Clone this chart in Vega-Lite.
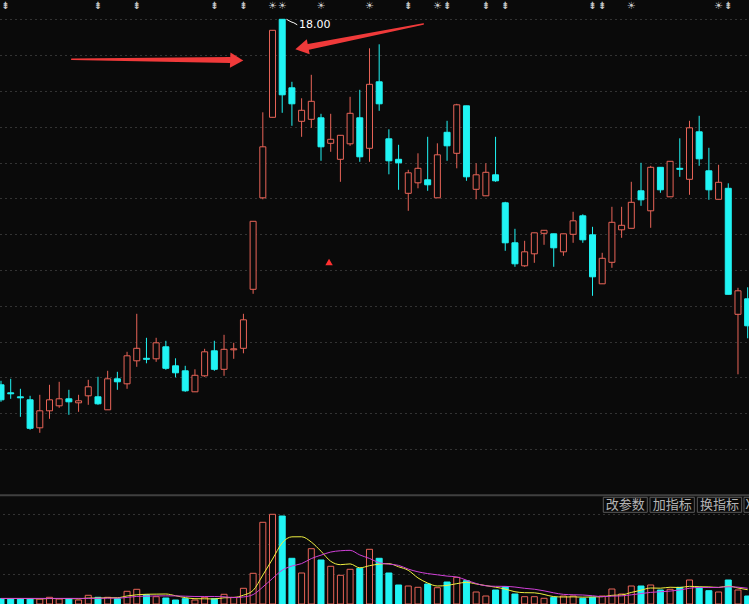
{
  "$schema": "https://vega.github.io/schema/vega-lite/v6.json",
  "autosize": "none",
  "width": 749,
  "height": 604,
  "padding": 0,
  "background": "#0a0a0a",
  "config": {"view": {"stroke": null}},
  "datasets": {
    "k": [
{"i":0,"d":"dn","o":10.69,"h":10.77,"l":10.35,"c":10.39,"v":10600,"m5":11000,"m10":11200},
{"i":1,"d":"dn","o":10.53,"h":10.81,"l":10.41,"c":10.51,"v":10000,"m5":11000,"m10":11200},
{"i":2,"d":"dn","o":10.45,"h":10.61,"l":10.05,"c":10.43,"v":10600,"m5":11000,"m10":11200},
{"i":3,"d":"dn","o":10.39,"h":10.47,"l":9.79,"c":9.82,"v":10600,"m5":11000,"m10":11200},
{"i":4,"d":"up","o":9.83,"h":10.49,"l":9.73,"c":10.17,"v":10000,"m5":10360,"m10":11200},
{"i":5,"d":"up","o":10.17,"h":10.69,"l":10.01,"c":10.39,"v":13400,"m5":10920,"m10":11200},
{"i":6,"d":"up","o":10.27,"h":10.75,"l":10.23,"c":10.41,"v":10000,"m5":10920,"m10":11200},
{"i":7,"d":"dn","o":10.41,"h":10.59,"l":10.09,"c":10.35,"v":10600,"m5":10920,"m10":11200},
{"i":8,"d":"up","o":10.33,"h":10.49,"l":10.15,"c":10.37,"v":8000,"m5":10400,"m10":11200},
{"i":9,"d":"up","o":10.47,"h":10.79,"l":10.29,"c":10.65,"v":17400,"m5":11880,"m10":11120},
{"i":10,"d":"dn","o":10.45,"h":10.85,"l":10.29,"c":10.31,"v":13400,"m5":11880,"m10":11400},
{"i":11,"d":"up","o":10.19,"h":10.97,"l":10.19,"c":10.81,"v":13400,"m5":12560,"m10":11740},
{"i":12,"d":"dn","o":10.81,"h":10.95,"l":10.59,"c":10.75,"v":10600,"m5":12560,"m10":11740},
{"i":13,"d":"up","o":10.71,"h":11.35,"l":10.61,"c":11.27,"v":25400,"m5":16040,"m10":13220},
{"i":14,"d":"up","o":11.17,"h":12.11,"l":11.05,"c":11.42,"v":29400,"m5":18440,"m10":15160},
{"i":15,"d":"dn","o":11.22,"h":11.63,"l":11.12,"c":11.20,"v":18600,"m5":19480,"m10":15680},
{"i":16,"d":"up","o":11.21,"h":11.63,"l":11.15,"c":11.53,"v":14600,"m5":19720,"m10":16140},
{"i":17,"d":"dn","o":11.45,"h":11.57,"l":10.99,"c":11.02,"v":12000,"m5":20000,"m10":16280},
{"i":18,"d":"dn","o":11.07,"h":11.22,"l":10.84,"c":10.93,"v":8000,"m5":16520,"m10":16280},
{"i":19,"d":"dn","o":10.97,"h":11.07,"l":10.55,"c":10.57,"v":10600,"m5":12760,"m10":15600},
{"i":20,"d":"up","o":10.55,"h":11.00,"l":10.55,"c":10.88,"v":8000,"m5":10640,"m10":15060},
{"i":21,"d":"up","o":10.87,"h":11.41,"l":10.85,"c":11.35,"v":13400,"m5":10400,"m10":15060},
{"i":22,"d":"dn","o":11.37,"h":11.57,"l":10.97,"c":11.00,"v":10600,"m5":10120,"m10":15060},
{"i":23,"d":"up","o":11.00,"h":11.69,"l":10.87,"c":11.40,"v":19400,"m5":12400,"m10":14460},
{"i":24,"d":"up","o":11.39,"h":11.53,"l":11.21,"c":11.41,"v":13400,"m5":12960,"m10":12860},
{"i":25,"d":"up","o":11.42,"h":12.11,"l":11.32,"c":11.99,"v":31400,"m5":17640,"m10":14140},
{"i":26,"d":"up","o":12.60,"h":13.96,"l":12.51,"c":13.96,"v":61400,"m5":27240,"m10":18820},
{"i":27,"d":"up","o":14.43,"h":16.14,"l":14.40,"c":15.45,"v":163400,"m5":57800,"m10":33960},
{"i":28,"d":"up","o":16.04,"h":17.78,"l":16.04,"c":17.78,"v":179400,"m5":89800,"m10":51100},
{"i":29,"d":"dn","o":18.00,"h":18.00,"l":16.13,"c":16.49,"v":176000,"m5":122320,"m10":67640},
{"i":30,"d":"dn","o":16.63,"h":16.75,"l":15.87,"c":16.31,"v":91400,"m5":134320,"m10":75980},
{"i":31,"d":"up","o":15.96,"h":16.42,"l":15.65,"c":16.18,"v":62000,"m5":134440,"m10":80840},
{"i":32,"d":"up","o":16.00,"h":16.89,"l":15.83,"c":16.36,"v":110600,"m5":123880,"m10":90840},
{"i":33,"d":"dn","o":16.03,"h":16.11,"l":15.17,"c":15.45,"v":88000,"m5":105600,"m10":97700},
{"i":34,"d":"up","o":15.52,"h":16.11,"l":15.35,"c":15.60,"v":75400,"m5":85480,"m10":103900},
{"i":35,"d":"up","o":15.20,"h":15.68,"l":14.75,"c":15.68,"v":57400,"m5":78680,"m10":106500},
{"i":36,"d":"up","o":15.51,"h":16.45,"l":15.47,"c":16.12,"v":69400,"m5":80160,"m10":107300},
{"i":37,"d":"dn","o":16.03,"h":16.59,"l":15.15,"c":15.25,"v":71400,"m5":72320,"m10":98100},
{"i":38,"d":"up","o":15.42,"h":17.42,"l":15.15,"c":16.70,"v":109400,"m5":76600,"m10":91100},
{"i":39,"d":"dn","o":16.75,"h":17.50,"l":16.17,"c":16.31,"v":91400,"m5":79800,"m10":82640},
{"i":40,"d":"dn","o":15.61,"h":15.80,"l":14.90,"c":15.17,"v":62000,"m5":80720,"m10":79700},
{"i":41,"d":"dn","o":15.20,"h":15.49,"l":14.59,"c":15.13,"v":38000,"m5":74440,"m10":77300},
{"i":42,"d":"up","o":14.52,"h":14.99,"l":14.17,"c":14.93,"v":36000,"m5":67360,"m10":69840},
{"i":43,"d":"up","o":14.73,"h":15.32,"l":14.62,"c":15.02,"v":33400,"m5":52160,"m10":64380},
{"i":44,"d":"dn","o":14.79,"h":15.65,"l":14.57,"c":14.69,"v":40000,"m5":41880,"m10":60840},
{"i":45,"d":"up","o":14.43,"h":15.52,"l":14.43,"c":15.29,"v":32600,"m5":36000,"m10":58360},
{"i":46,"d":"dn","o":15.74,"h":15.97,"l":15.17,"c":15.47,"v":44000,"m5":37200,"m10":55820},
{"i":47,"d":"up","o":15.32,"h":16.31,"l":15.02,"c":16.29,"v":53400,"m5":40680,"m10":54020},
{"i":48,"d":"dn","o":16.27,"h":16.27,"l":14.77,"c":14.85,"v":46600,"m5":43320,"m10":47740},
{"i":49,"d":"up","o":14.60,"h":15.12,"l":14.40,"c":14.89,"v":24000,"m5":40120,"m10":41000},
{"i":50,"d":"up","o":14.47,"h":15.12,"l":14.47,"c":14.94,"v":16000,"m5":36800,"m10":36400},
{"i":51,"d":"dn","o":14.89,"h":15.65,"l":14.75,"c":14.77,"v":28000,"m5":33600,"m10":35400},
{"i":52,"d":"dn","o":14.33,"h":14.35,"l":13.37,"c":13.53,"v":34600,"m5":29840,"m10":35260},
{"i":53,"d":"dn","o":13.53,"h":13.81,"l":13.05,"c":13.11,"v":20000,"m5":24520,"m10":33920},
{"i":54,"d":"up","o":13.07,"h":13.57,"l":13.05,"c":13.35,"v":14600,"m5":22640,"m10":31380},
{"i":55,"d":"up","o":13.31,"h":13.73,"l":13.13,"c":13.73,"v":14600,"m5":22360,"m10":29580},
{"i":56,"d":"up","o":13.72,"h":13.78,"l":13.49,"c":13.78,"v":11400,"m5":19040,"m10":26320},
{"i":57,"d":"dn","o":13.71,"h":13.71,"l":13.05,"c":13.43,"v":13400,"m5":14800,"m10":22320},
{"i":58,"d":"up","o":13.35,"h":13.71,"l":13.27,"c":13.71,"v":16000,"m5":14000,"m10":19260},
{"i":59,"d":"up","o":13.70,"h":14.15,"l":13.53,"c":13.97,"v":16000,"m5":14280,"m10":18460},
{"i":60,"d":"dn","o":14.07,"h":14.10,"l":13.53,"c":13.59,"v":11400,"m5":13640,"m10":18000},
{"i":61,"d":"dn","o":13.69,"h":13.85,"l":12.47,"c":12.85,"v":13400,"m5":14040,"m10":16540},
{"i":62,"d":"up","o":12.71,"h":13.33,"l":12.71,"c":13.22,"v":16000,"m5":14560,"m10":14680},
{"i":63,"d":"up","o":13.14,"h":14.25,"l":13.03,"c":13.94,"v":30000,"m5":17360,"m10":15680},
{"i":64,"d":"up","o":13.79,"h":14.25,"l":13.63,"c":13.88,"v":20000,"m5":18160,"m10":16220},
{"i":65,"d":"up","o":13.82,"h":14.75,"l":13.82,"c":14.34,"v":36000,"m5":23080,"m10":18360},
{"i":66,"d":"dn","o":14.57,"h":15.13,"l":14.27,"c":14.39,"v":36000,"m5":27600,"m10":20820},
{"i":67,"d":"up","o":14.17,"h":15.07,"l":13.83,"c":15.04,"v":38000,"m5":32000,"m10":23280},
{"i":68,"d":"dn","o":15.04,"h":15.04,"l":14.53,"c":14.59,"v":28000,"m5":31600,"m10":24480},
{"i":69,"d":"up","o":14.45,"h":15.16,"l":14.45,"c":15.16,"v":29400,"m5":33480,"m10":25820},
{"i":70,"d":"dn","o":15.02,"h":15.62,"l":14.85,"c":15.00,"v":33400,"m5":32960,"m10":28020},
{"i":71,"d":"up","o":14.80,"h":15.97,"l":14.49,"c":15.83,"v":48000,"m5":35360,"m10":31480},
{"i":72,"d":"dn","o":15.75,"h":16.07,"l":15.07,"c":15.21,"v":33400,"m5":34440,"m10":33220},
{"i":73,"d":"dn","o":14.97,"h":15.43,"l":14.39,"c":14.59,"v":26600,"m5":34160,"m10":32880},
{"i":74,"d":"up","o":14.40,"h":15.09,"l":14.40,"c":14.74,"v":24000,"m5":33080,"m10":33280},
{"i":75,"d":"dn","o":14.62,"h":14.72,"l":12.50,"c":12.50,"v":48000,"m5":36000,"m10":34480},
{"i":76,"d":"up","o":12.10,"h":12.63,"l":10.90,"c":12.57,"v":28000,"m5":32000,"m10":33680},
{"i":77,"d":"dn","o":12.41,"h":12.64,"l":11.62,"c":11.87,"v":16000,"m5":28520,"m10":31480}
    ],
    "icons": [
      {"i":0.45,"t":"⇟"},{"i":10,"t":"⇟"},{"i":14,"t":"⇟"},{"i":22,"t":"⇟"},{"i":25,"t":"⇟"},
      {"i":28,"t":"☀"},{"i":29,"t":"☀"},{"i":33,"t":"☀"},{"i":38,"t":"☀"},
      {"i":42,"t":"⇟"},{"i":45,"t":"☀"},{"i":46,"t":"⇟"},{"i":50,"t":"⇟"},{"i":52,"t":"⇟"},
      {"i":61,"t":"⇟"},{"i":62,"t":"⇟"},{"i":65,"t":"☀"},{"i":74,"t":"☀"},{"i":75,"t":"⇟"}
    ],
    "shafts": [
      {"a":1,"s":1,"i":7.29,"p":17.2,"part":"tail"},
      {"a":1,"s":2,"i":23.6,"p":17.186,"part":"neck"},
      {"a":2,"s":1,"i":43.55,"p":17.906,"part":"tail"},
      {"a":2,"s":2,"i":31.7,"p":17.448,"part":"neck"}
    ],
    "head1": [{"i":24.31,"p":17.18}],
    "head2": [{"i":31.02,"p":17.426}],
    "flag": [
      {"s":1,"i":29.45,"p":18.0},
      {"s":2,"i":29.9,"p":17.95},
      {"s":3,"i":30.2,"p":17.93},
      {"s":4,"i":30.55,"p":17.89}
    ],
    "labels": [{"i":30.73,"p":17.886,"t":"18.00"}],
    "marker": [{"i":33.83,"p":13.146}],
    "btn": [
      {"x1":62.11,"x2":66.65,"xm":64.38,"t":"改参数"},
      {"x1":66.93,"x2":71.5,"xm":69.215,"t":"加指标"},
      {"x1":71.81,"x2":76.38,"xm":74.095,"t":"换指标"}
    ],
    "btnx": [
      {"x1":76.62,"x2":81.2,"xm":76.78,"t":"X"}
    ]
  },
  "resolve": {"scale": {"y": "independent"}},
  "layer": [
    {
      "layer": [
        {
          "data": {"name": "k"},
          "mark": {"type": "rule", "strokeWidth": 1, "clip": true},
          "encoding": {
            "x": {"field": "i", "type": "quantitative", "scale": {"domain": [-0.1031, 77.137], "nice": false, "zero": false, "padding": 0}, "axis": null},
            "y": {"field": "l", "type": "quantitative", "scale": {"domain": [6.306, 18.386], "nice": false, "zero": false, "padding": 0},
                  "axis": {"values": [18.0, 17.284, 16.568, 15.852, 15.136, 14.42, 13.704, 12.988, 12.272, 11.556, 10.84, 10.124, 9.408],
                           "labels": false, "ticks": false, "domain": false, "title": null, "grid": true,
                           "gridColor": "#5c5c5c", "gridDash": [1, 4], "gridWidth": 1}},
            "y2": {"field": "h"},
            "stroke": {"field": "d", "type": "nominal", "scale": {"domain": ["up", "dn"], "range": ["#e96458", "#20f4f4"]}, "legend": null}
          }
        },
        {
          "data": {"name": "k"},
          "mark": {"type": "bar", "size": 6, "strokeWidth": 1, "clip": true},
          "encoding": {
            "x": {"field": "i", "type": "quantitative"},
            "y": {"field": "o", "type": "quantitative"},
            "y2": {"field": "c"},
            "fill": {"field": "d", "type": "nominal", "scale": {"domain": ["up", "dn"], "range": ["#0a0a0a", "#20f4f4"]}, "legend": null},
            "stroke": {"field": "d", "type": "nominal", "legend": null}
          }
        },
        {
          "data": {"name": "icons"},
          "mark": {"type": "text", "fontSize": 10, "fontWeight": "bold", "color": "#c8c8c8", "font": "DejaVu Sans", "baseline": "middle", "align": "center"},
          "encoding": {
            "x": {"field": "i", "type": "quantitative"},
            "y": {"datum": 18.27},
            "text": {"field": "t"}
          }
        },
        {
          "data": {"name": "shafts"},
          "mark": {"type": "trail", "color": "#f03a3a"},
          "encoding": {
            "x": {"field": "i", "type": "quantitative"},
            "y": {"field": "p", "type": "quantitative"},
            "size": {"field": "part", "type": "ordinal", "scale": {"domain": ["tail", "neck"], "range": [1.5, 6]}, "legend": null},
            "detail": {"field": "a"},
            "order": {"field": "s"}
          }
        },
        {
          "data": {"name": "head1"},
          "mark": {"type": "point", "shape": "triangle-right", "filled": true, "size": 230, "angle": 2, "color": "#f03a3a", "opacity": 1},
          "encoding": {
            "x": {"field": "i", "type": "quantitative"},
            "y": {"field": "p", "type": "quantitative"}
          }
        },
        {
          "data": {"name": "head2"},
          "mark": {"type": "point", "shape": "triangle-right", "filled": true, "size": 230, "angle": 169, "color": "#f03a3a", "opacity": 1},
          "encoding": {
            "x": {"field": "i", "type": "quantitative"},
            "y": {"field": "p", "type": "quantitative"}
          }
        },
        {
          "data": {"name": "flag"},
          "mark": {"type": "line", "color": "#ffffff", "strokeWidth": 1},
          "encoding": {
            "x": {"field": "i", "type": "quantitative"},
            "y": {"field": "p", "type": "quantitative"},
            "order": {"field": "s"}
          }
        },
        {
          "data": {"name": "labels"},
          "mark": {"type": "text", "fontSize": 11, "color": "#ffffff", "font": "DejaVu Sans", "align": "left", "baseline": "middle"},
          "encoding": {
            "x": {"field": "i", "type": "quantitative"},
            "y": {"field": "p", "type": "quantitative"},
            "text": {"field": "t"}
          }
        },
        {
          "data": {"name": "marker"},
          "mark": {"type": "point", "shape": "triangle-up", "filled": true, "size": 55, "color": "#ff3030", "opacity": 1},
          "encoding": {
            "x": {"field": "i", "type": "quantitative"},
            "y": {"field": "p", "type": "quantitative"}
          }
        }
      ]
    },
    {
      "layer": [
        {
          "data": {"name": "k"},
          "mark": {"type": "bar", "size": 6, "strokeWidth": 1, "clip": true},
          "encoding": {
            "x": {"field": "i", "type": "quantitative"},
            "y": {"field": "v", "type": "quantitative", "scale": {"domain": [0, 1208000], "nice": false, "zero": false, "padding": 0},
                  "axis": {"orient": "right", "values": [60000, 120000, 180000], "labels": false, "ticks": false, "domain": false, "title": null,
                           "grid": true, "gridColor": "#5c5c5c", "gridDash": [1, 4], "gridWidth": 1}},
            "y2": {"datum": 0},
            "fill": {"field": "d", "type": "nominal", "legend": null},
            "stroke": {"field": "d", "type": "nominal", "legend": null}
          }
        },
        {
          "data": {"name": "k"},
          "mark": {"type": "line", "color": "#f0f040", "strokeWidth": 1, "interpolate": "monotone", "clip": true},
          "encoding": {
            "x": {"field": "i", "type": "quantitative"},
            "y": {"field": "m5", "type": "quantitative"}
          }
        },
        {
          "data": {"name": "k"},
          "mark": {"type": "line", "color": "#d040d8", "strokeWidth": 1, "interpolate": "monotone", "clip": true},
          "encoding": {
            "x": {"field": "i", "type": "quantitative"},
            "y": {"field": "m10", "type": "quantitative"}
          }
        },
        {
          "data": {"values": [{"sep": 217400}]},
          "mark": {"type": "rule", "color": "#404040", "strokeWidth": 2},
          "encoding": {
            "y": {"field": "sep", "type": "quantitative"}
          }
        },
        {
          "data": {"name": "btn"},
          "mark": {"type": "rect", "fill": "#0a0a0a", "stroke": "#5a5a5a", "strokeWidth": 1, "clip": true},
          "encoding": {
            "x": {"field": "x1", "type": "quantitative"},
            "x2": {"field": "x2"},
            "y": {"datum": 213400},
            "y2": {"datum": 183400}
          }
        },
        {
          "data": {"name": "btnx"},
          "mark": {"type": "rect", "fill": "#0a0a0a", "stroke": "#5a5a5a", "strokeWidth": 1, "clip": true},
          "encoding": {
            "x": {"field": "x1", "type": "quantitative"},
            "x2": {"field": "x2"},
            "y": {"datum": 213400},
            "y2": {"datum": 183400}
          }
        },
        {
          "data": {"name": "btn"},
          "mark": {"type": "text", "fontSize": 13, "color": "#b4b4b4", "font": "Noto Sans CJK SC", "align": "center", "baseline": "middle"},
          "encoding": {
            "x": {"field": "xm", "type": "quantitative"},
            "y": {"datum": 198400},
            "text": {"field": "t"}
          }
        },
        {
          "data": {"name": "btnx"},
          "mark": {"type": "text", "fontSize": 13, "color": "#b4b4b4", "font": "Noto Sans CJK SC", "align": "left", "baseline": "middle", "clip": true},
          "encoding": {
            "x": {"field": "xm", "type": "quantitative"},
            "y": {"datum": 198400},
            "text": {"field": "t"}
          }
        }
      ]
    }
  ]
}
